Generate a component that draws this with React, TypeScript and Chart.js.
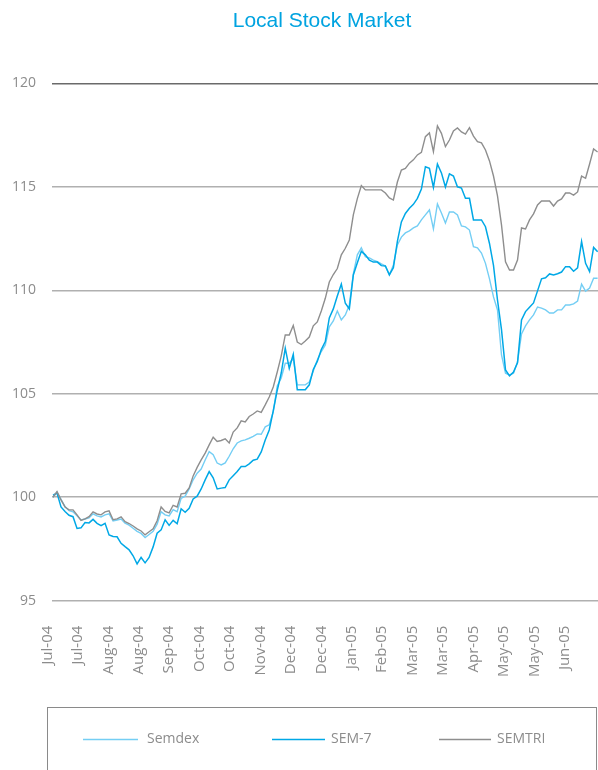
import React, { useEffect, useRef } from 'react';
import { Chart, registerables } from 'chart.js';

Chart.register(...registerables);

const TITLE = 'Local Stock Market';

const xTickLabels = [
  'Jul-04', 'Jul-04', 'Aug-04', 'Aug-04', 'Sep-04', 'Oct-04', 'Oct-04', 'Nov-04', 'Dec-04',
  'Dec-04', 'Jan-05', 'Feb-05', 'Mar-05', 'Mar-05', 'Apr-05', 'May-05', 'May-05', 'Jun-05',
];

const seriesNames = ['Semdex', 'SEM-7', 'SEMTRI'];

const semdex = [
  100.0, 100.25, 99.9, 99.55, 99.35, 99.3, 99.1, 98.9, 98.95, 99.0,
  99.2, 99.1, 99.05, 99.15, 99.2, 98.85, 98.9, 98.95, 98.75, 98.65,
  98.5, 98.35, 98.25, 98.05, 98.2, 98.35, 98.7, 99.3, 99.15, 99.1,
  99.4, 99.3, 99.95, 100.05, 100.4, 100.84, 101.16, 101.36, 101.8, 102.2,
  102.05, 101.65, 101.56, 101.66, 101.98, 102.34, 102.62, 102.72, 102.77, 102.85,
  102.94, 103.06, 103.04, 103.4, 103.5, 104.12, 105.38, 105.76, 106.47, 106.47,
  106.7, 105.43, 105.43, 105.43, 105.57, 106.1, 106.63, 107.04, 107.36, 108.23,
  108.52, 109.0, 108.57, 108.81, 109.29, 110.79, 111.71, 112.05, 111.62, 111.56,
  111.46, 111.38, 111.27, 111.17, 110.74, 111.22, 112.19, 112.57, 112.77, 112.87,
  113.01, 113.11, 113.4, 113.64, 113.88, 112.96, 114.17, 113.73, 113.25, 113.78,
  113.78, 113.64, 113.11, 113.06, 112.91, 112.11, 112.05, 111.8, 111.3, 110.55,
  109.68, 109.05, 106.88, 105.99, 105.91, 105.99, 106.54, 107.89, 108.28, 108.57,
  108.81, 109.19, 109.14, 109.05, 108.9, 108.9, 109.05, 109.05, 109.29, 109.29,
  109.34, 109.48, 110.3, 109.96, 110.11, 110.58, 110.58,
];

const sem7 = [
  100.1, 100.2, 99.53, 99.31, 99.13, 99.06, 98.49, 98.52, 98.78, 98.76,
  98.93, 98.74, 98.63, 98.74, 98.18, 98.1, 98.09, 97.77, 97.61, 97.46,
  97.17, 96.78, 97.09, 96.83, 97.09, 97.6, 98.26, 98.42, 98.91, 98.64,
  98.88, 98.72, 99.44, 99.27, 99.46, 99.92, 100.05, 100.4, 100.84, 101.24,
  100.94, 100.4, 100.44, 100.47, 100.84, 101.04, 101.24, 101.48, 101.48, 101.61,
  101.79, 101.84, 102.19, 102.77, 103.25, 104.17, 105.17, 106.0, 107.2, 106.23,
  106.9, 105.19, 105.19, 105.19, 105.43, 106.17, 106.56, 107.14, 107.52, 108.66,
  109.1, 109.72, 110.3, 109.37, 109.1, 110.74, 111.33, 111.88, 111.71, 111.45,
  111.36, 111.36, 111.19, 111.17, 110.75, 111.09, 112.36, 113.3, 113.71, 113.96,
  114.15, 114.44, 114.89, 115.97, 115.89, 114.97, 116.1, 115.67, 114.99, 115.63,
  115.52, 115.0, 114.94, 114.44, 114.44, 113.4, 113.4, 113.4, 113.07, 112.26,
  111.2, 109.53, 108.1, 106.15, 105.86, 106.05, 106.49, 108.57, 108.97, 109.18,
  109.39, 109.97, 110.55, 110.6, 110.79, 110.74, 110.8, 110.88, 111.14, 111.14,
  110.92, 111.08, 112.35, 111.3, 110.9, 112.07, 111.86,
];

const semtri = [
  100.0, 100.27, 99.87, 99.53, 99.39, 99.39, 99.15, 98.88, 98.95, 99.06,
  99.29, 99.19, 99.15, 99.29, 99.34, 98.91, 98.95, 99.05, 98.82, 98.73,
  98.61, 98.47, 98.37, 98.18, 98.33, 98.47, 98.86, 99.53, 99.31, 99.24,
  99.61, 99.53, 100.16, 100.19, 100.45, 101.03, 101.44, 101.8, 102.13, 102.53,
  102.9, 102.69, 102.74, 102.82, 102.62, 103.15, 103.35, 103.69, 103.64, 103.9,
  104.02, 104.17, 104.1, 104.46, 104.84, 105.33, 106.05, 106.83, 107.84, 107.84,
  108.3, 107.5, 107.38, 107.55, 107.74, 108.28, 108.47, 109.0, 109.61, 110.4,
  110.76, 111.05, 111.71, 112.03, 112.43, 113.64, 114.43, 115.06, 114.85, 114.85,
  114.85, 114.85, 114.85, 114.7, 114.46, 114.36, 115.23, 115.81, 115.89, 116.14,
  116.3, 116.54, 116.66, 117.42, 117.6, 116.7, 117.94, 117.58, 116.94, 117.26,
  117.7, 117.84, 117.65, 117.55, 117.86, 117.45, 117.18, 117.12, 116.78, 116.25,
  115.52, 114.56, 113.16, 111.37, 110.98, 110.98, 111.46, 113.01, 112.96, 113.4,
  113.69, 114.12, 114.31, 114.31, 114.31, 114.07, 114.31, 114.41, 114.7, 114.7,
  114.6, 114.75, 115.52, 115.41, 116.1, 116.83, 116.68,
];

const Y_MIN = 95;
const Y_MAX = 120;
const Y_STEP = 5;

const COLORS = ['#74cef4', '#00a8e6', '#8e8e8e'];
const TEXT_GRAY = '#8c8c8c';
const FONT_FAMILY = '"Open Sans", "DejaVu Sans", sans-serif';

export default function App() {
  const ref = useRef<HTMLCanvasElement | null>(null);

  useEffect(() => {
    if (!ref.current) return;
    const toPts = (arr: number[]) => arr.map((y, i) => ({ x: i, y }));
    const n = semdex.length;
    const tickStart = -1.4;
    const tickStep = 7.6;

    const overlay = {
      id: 'overlay',
      afterDraw(chart: any) {
        const ctx = chart.ctx as CanvasRenderingContext2D;
        const area = chart.chartArea;
        ctx.save();
        ctx.font = '21px "Liberation Sans", Arial, sans-serif';
        ctx.fillStyle = '#00a3e0';
        ctx.textAlign = 'center';
        ctx.textBaseline = 'middle';
        ctx.fillText(TITLE, (area.left + area.right) / 2 - 3, 21);

        ctx.strokeStyle = '#8a8a8a';
        ctx.lineWidth = 1;
        ctx.strokeRect(47.5, 707.5, 549, 90);

        const items = [
          { x0: 83, x1: 138, tx: 147 },
          { x0: 272, x1: 325, tx: 331 },
          { x0: 439, x1: 491, tx: 497 },
        ];
        const ly = 739.5;
        ctx.font = '14px ' + FONT_FAMILY;
        ctx.textAlign = 'left';
        ctx.textBaseline = 'middle';
        chart.data.datasets.forEach((ds: any, k: number) => {
          const it = items[k];
          ctx.strokeStyle = ds.borderColor;
          ctx.lineWidth = 1.6;
          ctx.beginPath();
          ctx.moveTo(it.x0, ly);
          ctx.lineTo(it.x1, ly);
          ctx.stroke();
          ctx.fillStyle = TEXT_GRAY;
          ctx.fillText(ds.label, it.tx, ly);
        });
        ctx.restore();
      },
    };

    const chart = new Chart(ref.current, {
      type: 'line',
      data: {
        datasets: [
          { label: seriesNames[0], data: toPts(semdex), borderColor: COLORS[0], borderWidth: 1.4, pointRadius: 0, order: 2 },
          { label: seriesNames[1], data: toPts(sem7), borderColor: COLORS[1], borderWidth: 1.5, pointRadius: 0, order: 1 },
          { label: seriesNames[2], data: toPts(semtri), borderColor: COLORS[2], borderWidth: 1.4, pointRadius: 0, order: 0 },
        ],
      },
      options: {
        animation: false,
        responsive: true,
        maintainAspectRatio: false,
        layout: { padding: { top: 83.3, bottom: 89.3, left: 0, right: 0 } },
        plugins: {
          legend: { display: false },
          title: { display: false },
          tooltip: { enabled: false },
        },
        scales: {
          x: {
            type: 'linear',
            min: -0.25,
            max: n - 1 + 0.1,
            grid: { display: false },
            border: { display: false },
            afterBuildTicks: (s: any) => {
              s.ticks = xTickLabels.map((_, k) => ({ value: tickStart + k * tickStep }));
            },
            afterFit: (s: any) => {
              s.height = 80;
              s.paddingLeft = 0;
              s.paddingRight = 0;
            },
            ticks: {
              autoSkip: false,
              minRotation: 90,
              maxRotation: 90,
              padding: 17,
              color: TEXT_GRAY,
              font: { family: FONT_FAMILY, size: 15 },
              callback: (_v: any, i: number) => xTickLabels[i] ?? '',
            },
          },
          y: {
            min: Y_MIN,
            max: Y_MAX,
            border: { display: false },
            afterFit: (s: any) => {
              s.width = 52;
            },
            grid: {
              drawTicks: false,
              lineWidth: 1.5,
              color: (c: any) => (c.tick && c.tick.value === Y_MAX ? '#6a6a6a' : '#b0b0b0'),
            },
            ticks: {
              stepSize: Y_STEP,
              padding: 16,
              color: TEXT_GRAY,
              font: { family: FONT_FAMILY, size: 14 },
            },
          },
        },
      },
      plugins: [overlay],
    });

    return () => chart.destroy();
  }, []);

  return (
    <div style={{ position: 'fixed', left: 0, top: 0, width: 598, height: 770, background: '#fff' }}>
      <canvas ref={ref} />
    </div>
  );
}
